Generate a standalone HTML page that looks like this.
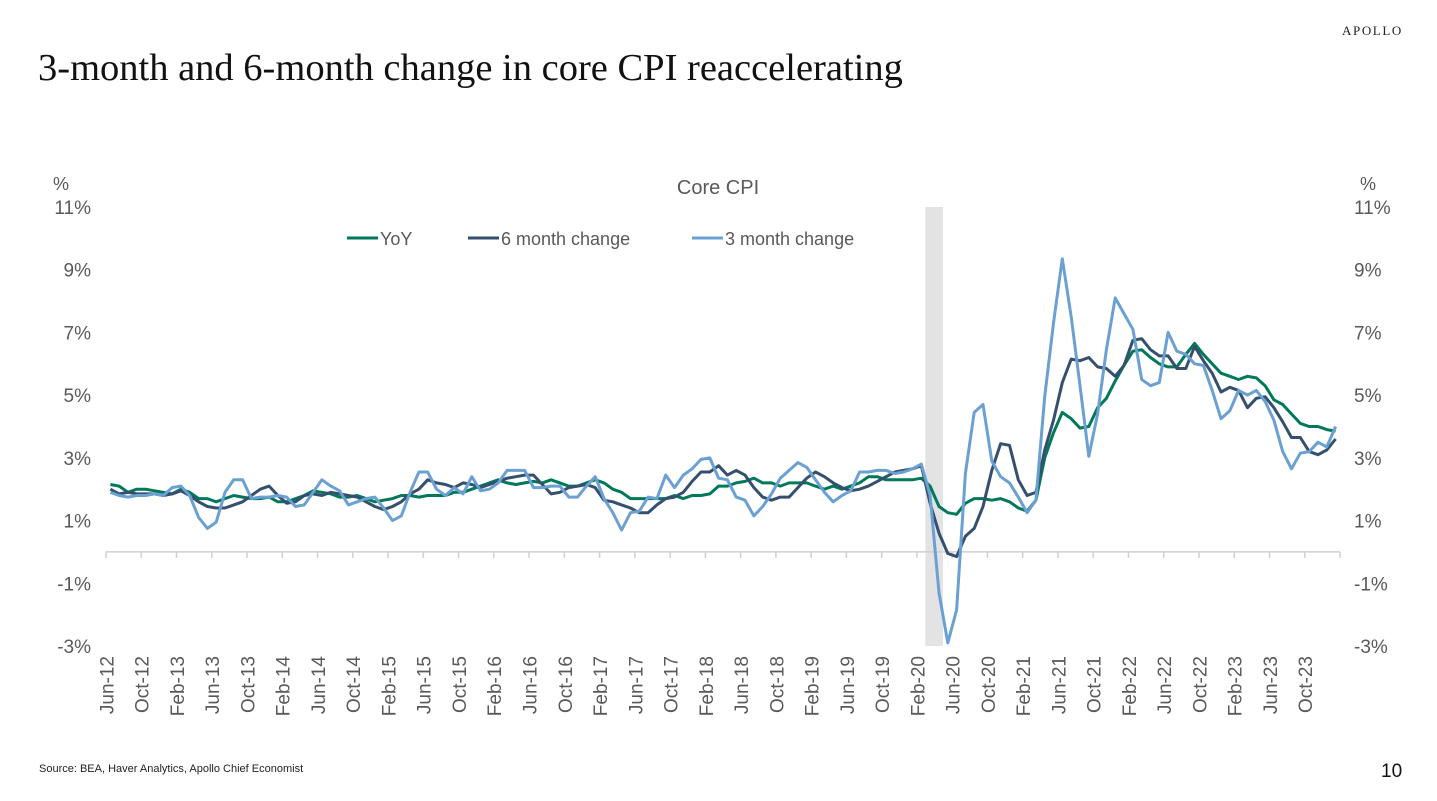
<!DOCTYPE html>
<html><head><meta charset="utf-8">
<style>
html,body{margin:0;padding:0;background:#fff;}
body{width:1437px;height:801px;position:relative;overflow:hidden;font-family:"Liberation Sans",sans-serif;}
.t{position:absolute;white-space:nowrap;}
</style></head>
<body>
<div class="t" style="left:1342px;top:23px;font-family:'Liberation Serif',serif;font-size:13px;letter-spacing:1.6px;color:#222;">APOLLO</div>
<div class="t" style="left:38px;top:46px;font-family:'Liberation Serif',serif;font-size:38.5px;color:#111;">3-month and 6-month change in core CPI reaccelerating</div>
<div class="t" style="left:39px;top:763px;font-size:11px;color:#222;">Source: BEA, Haver Analytics, Apollo Chief Economist</div>
<div class="t" style="left:1381px;top:761px;font-size:19px;color:#111;">10</div>
<svg id="chart" width="1437" height="801" style="position:absolute;left:0;top:0;" xmlns="http://www.w3.org/2000/svg"></svg>
<script>
const yTicks=[11,9,7,5,3,1,-1,-3];
const yoy=[2.15,2.1,1.9,2.0,2.0,1.95,1.9,
1.85,2.0,1.9,1.7,1.7,1.6,1.7,1.8,1.75,1.7,1.7,1.75,
1.6,1.6,1.7,1.8,1.95,1.9,1.85,1.75,1.75,1.8,1.7,1.6,
1.65,1.7,1.8,1.8,1.75,1.8,1.8,1.8,1.9,1.9,2.0,2.1,
2.2,2.3,2.2,2.15,2.2,2.25,2.2,2.3,2.2,2.1,2.1,2.2,
2.3,2.2,2.0,1.9,1.7,1.7,1.7,1.7,1.7,1.8,1.7,1.8,
1.8,1.85,2.1,2.1,2.2,2.25,2.35,2.2,2.2,2.1,2.2,2.2,
2.2,2.1,2.0,2.1,2.0,2.1,2.2,2.4,2.4,2.3,2.3,2.3,
2.3,2.35,2.1,1.45,1.25,1.2,1.55,1.7,1.7,1.65,1.7,1.6,
1.4,1.3,1.65,3.0,3.8,4.45,4.25,3.95,4.0,4.6,4.9,5.45,
5.95,6.4,6.45,6.2,6.0,5.9,5.9,6.3,6.65,6.3,6.0,5.7,
5.6,5.5,5.6,5.55,5.3,4.85,4.7,4.4,4.1,4.0,4.0,3.9,
3.85];
const sixMonth=[2.0,1.85,1.9,1.85,1.85,1.85,1.8,
1.85,1.95,1.8,1.6,1.45,1.4,1.4,1.5,1.6,1.8,2.0,2.1,
1.8,1.55,1.6,1.8,1.85,1.8,1.9,1.85,1.8,1.75,1.6,1.45,
1.35,1.45,1.6,1.85,2.0,2.3,2.2,2.15,2.05,2.2,2.15,2.05,
2.15,2.25,2.35,2.4,2.45,2.45,2.15,1.85,1.9,2.05,2.1,2.15,
2.05,1.65,1.6,1.5,1.4,1.25,1.25,1.5,1.7,1.75,1.9,2.25,
2.55,2.55,2.75,2.45,2.6,2.45,2.05,1.75,1.65,1.75,1.75,2.05,
2.35,2.55,2.4,2.2,2.05,1.95,2.0,2.1,2.25,2.4,2.55,2.6,
2.65,2.75,1.55,0.6,-0.05,-0.15,0.5,0.75,1.45,2.6,3.45,3.4,
2.3,1.8,1.9,3.25,4.2,5.4,6.15,6.1,6.2,5.9,5.85,5.6,
5.95,6.75,6.8,6.45,6.25,6.25,5.85,5.85,6.55,6.1,5.7,5.1,
5.25,5.15,4.6,4.9,4.95,4.6,4.15,3.65,3.65,3.2,3.1,3.25,
3.6];
const threeMonth=[1.9,1.8,1.75,1.8,1.8,1.85,1.8,
2.05,2.1,1.8,1.1,0.75,0.95,1.9,2.3,2.3,1.7,1.75,1.75,
1.8,1.75,1.45,1.5,1.9,2.3,2.1,1.95,1.5,1.6,1.7,1.75,
1.4,1.0,1.15,1.9,2.55,2.55,2.0,1.8,2.05,1.85,2.4,1.95,
2.0,2.2,2.6,2.6,2.6,2.05,2.05,2.1,2.1,1.75,1.75,2.1,
2.4,1.7,1.25,0.7,1.25,1.3,1.75,1.7,2.45,2.05,2.45,2.65,
2.95,3.0,2.35,2.3,1.75,1.65,1.15,1.45,1.85,2.35,2.6,2.85,
2.7,2.3,1.9,1.6,1.8,1.95,2.55,2.55,2.6,2.6,2.5,2.55,
2.65,2.8,1.8,-1.3,-2.9,-1.85,2.5,4.45,4.7,2.9,2.4,2.2,
1.75,1.25,1.65,4.95,7.3,9.35,7.5,5.3,3.05,4.4,6.45,8.1,
7.6,7.1,5.5,5.3,5.4,7.0,6.4,6.3,6.0,5.95,5.15,4.25,
4.5,5.15,5.0,5.15,4.8,4.2,3.2,2.65,3.15,3.2,3.5,3.35,
4.0];
const monthNames=["Jan","Feb","Mar","Apr","May","Jun","Jul","Aug","Sep","Oct","Nov","Dec"];
const N=yoy.length;
const svg=document.getElementById('chart');
const NS="http://www.w3.org/2000/svg";
const X0=106,X1=1340,Y11=207,Ym3=646;
const xs=i=>X0+(i+0.5)*(X1-X0)/N;
const ys=v=>Y11+(11-v)*(Ym3-Y11)/14;
function mk(tag,attrs,parent){const e=document.createElementNS(NS,tag);for(const k in attrs)e.setAttribute(k,attrs[k]);(parent||svg).appendChild(e);return e;}
const rec=mk('rect',{x:xs(92)+4,y:Y11,width:xs(94)-xs(92),height:Ym3-Y11,fill:'#e3e3e3'});


yTicks.forEach(v=>{
 const l=mk('text',{x:91,y:ys(v)+7,'text-anchor':'end','font-size':19,fill:'#595959','font-family':'Liberation Sans, sans-serif'});l.textContent=v+'%';
 
 
 const r=mk('text',{x:1354,y:ys(v)+7,'text-anchor':'start','font-size':19,fill:'#595959','font-family':'Liberation Sans, sans-serif'});r.textContent=v+'%';
 
 
});
const pl=mk('text',{x:53,y:190,'font-size':18,fill:'#595959'});pl.textContent='%';


const pr=mk('text',{x:1360,y:190,'font-size':18,fill:'#595959'});pr.textContent='%';


const ct=mk('text',{x:718,y:194,'text-anchor':'middle','font-size':20,fill:'#595959'});ct.textContent='Core CPI';


const y0=ys(0);
const ax=mk('line',{x1:X0,x2:X1,y1:y0,y2:y0,stroke:'#d0d0d0','stroke-width':1.5});


for(let i=0;i<=N;i+=4){
 const tx=X0+i*(X1-X0)/N;
 const t=mk('line',{x1:tx,x2:tx,y1:y0,y2:y0+6,stroke:'#d0d0d0','stroke-width':1.5});
 
 
}
for(let i=0;i<N;i+=4){
 const m=(5+i)%12, yr=12+Math.floor((5+i)/12);
 const lx=xs(i)+3, ly=656;
 const l=mk('text',{x:lx,y:ly,transform:`rotate(-90 ${lx} ${ly})`,'text-anchor':'end','font-size':19,fill:'#595959'});
 l.textContent=monthNames[m]+'-'+yr;
 
 
}
const series=[[yoy,'#00785a','yoy-line'],[sixMonth,'#34506e','six-month-line'],[threeMonth,'#6aa0d2','three-month-line']];
series.forEach(([d,c,n])=>{
 const p=mk('polyline',{points:d.map((v,i)=>xs(i).toFixed(1)+','+ys(v).toFixed(1)).join(' '),fill:'none',stroke:c,'stroke-width':3,'stroke-linejoin':'round'});
 
 
});
const leg=[['YoY','#00785a',347],['6 month change','#34506e',468],['3 month change','#6aa0d2',692]];
leg.forEach(([t,c,x])=>{
 const g=mk('g',{});
 
 
 mk('line',{x1:x,x2:x+31,y1:238,y2:238,stroke:c,'stroke-width':3},g);
 const tt=mk('text',{x:x+33,y:245,'font-size':18,fill:'#595959'},g);tt.textContent=t;
});
</script>
</body></html>
